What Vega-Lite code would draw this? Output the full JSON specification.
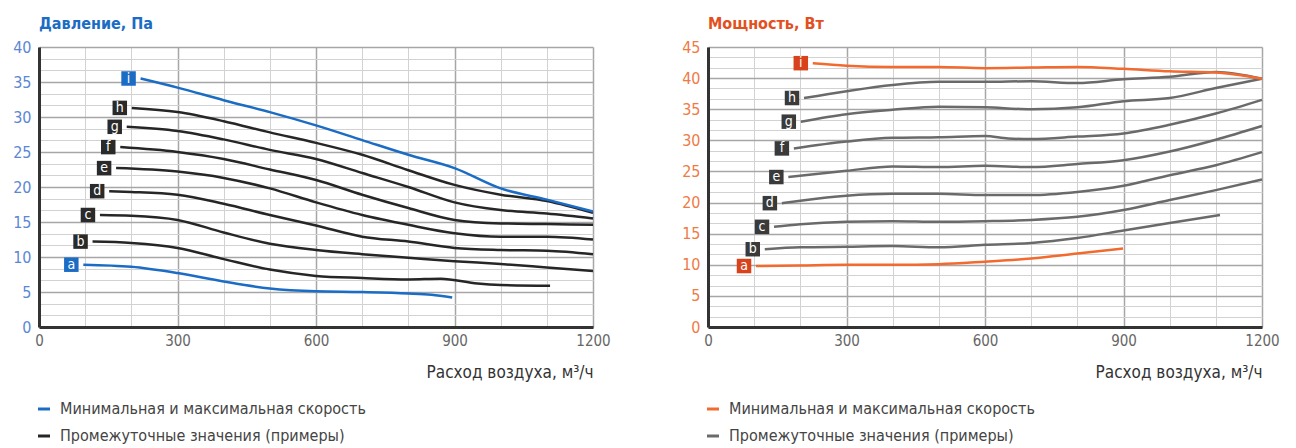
{
  "$schema": "https://vega.github.io/schema/vega-lite/v6.json",
  "padding": {"left": 12, "top": 16, "right": 5, "bottom": 0},
  "config": {
    "font": "Liberation Sans Narrow, DejaVu Sans Condensed, Liberation Sans, sans-serif",
    "view": {"stroke": null},
    "concat": {"spacing": 70}
  },
  "datasets": {
    "pres": [
      {"s":"a","t":"m","x":96,"y":8.9},{"s":"a","t":"m","x":200,"y":8.6},{"s":"a","t":"m","x":300,"y":7.7},{"s":"a","t":"m","x":400,"y":6.5},{"s":"a","t":"m","x":500,"y":5.5},{"s":"a","t":"m","x":600,"y":5.1},{"s":"a","t":"m","x":700,"y":5.0},{"s":"a","t":"m","x":800,"y":4.8},{"s":"a","t":"m","x":850,"y":4.6},{"s":"a","t":"m","x":895,"y":4.2},
      {"s":"b","t":"p","x":116,"y":12.2},{"s":"b","t":"p","x":200,"y":12.0},{"s":"b","t":"p","x":300,"y":11.3},{"s":"b","t":"p","x":400,"y":9.7},{"s":"b","t":"p","x":500,"y":8.2},{"s":"b","t":"p","x":600,"y":7.3},{"s":"b","t":"p","x":700,"y":7.0},{"s":"b","t":"p","x":800,"y":6.8},{"s":"b","t":"p","x":870,"y":6.9},{"s":"b","t":"p","x":950,"y":6.2},{"s":"b","t":"p","x":1000,"y":6.0},{"s":"b","t":"p","x":1107,"y":5.9},
      {"s":"c","t":"p","x":132,"y":16.0},{"s":"c","t":"p","x":200,"y":15.9},{"s":"c","t":"p","x":300,"y":15.3},{"s":"c","t":"p","x":400,"y":13.5},{"s":"c","t":"p","x":500,"y":11.9},{"s":"c","t":"p","x":600,"y":11.0},{"s":"c","t":"p","x":700,"y":10.4},{"s":"c","t":"p","x":800,"y":9.9},{"s":"c","t":"p","x":900,"y":9.4},{"s":"c","t":"p","x":1000,"y":9.0},{"s":"c","t":"p","x":1100,"y":8.5},{"s":"c","t":"p","x":1200,"y":8.0},
      {"s":"d","t":"p","x":152,"y":19.4},{"s":"d","t":"p","x":200,"y":19.3},{"s":"d","t":"p","x":300,"y":18.9},{"s":"d","t":"p","x":400,"y":17.6},{"s":"d","t":"p","x":500,"y":16.0},{"s":"d","t":"p","x":600,"y":14.5},{"s":"d","t":"p","x":700,"y":12.9},{"s":"d","t":"p","x":800,"y":12.2},{"s":"d","t":"p","x":900,"y":11.3},{"s":"d","t":"p","x":1000,"y":11.0},{"s":"d","t":"p","x":1100,"y":10.9},{"s":"d","t":"p","x":1200,"y":10.4},
      {"s":"e","t":"p","x":167,"y":22.7},{"s":"e","t":"p","x":300,"y":22.2},{"s":"e","t":"p","x":400,"y":21.3},{"s":"e","t":"p","x":500,"y":19.8},{"s":"e","t":"p","x":600,"y":17.8},{"s":"e","t":"p","x":700,"y":16.0},{"s":"e","t":"p","x":800,"y":14.6},{"s":"e","t":"p","x":900,"y":13.4},{"s":"e","t":"p","x":1000,"y":12.9},{"s":"e","t":"p","x":1100,"y":12.9},{"s":"e","t":"p","x":1200,"y":12.5},
      {"s":"f","t":"p","x":176,"y":25.7},{"s":"f","t":"p","x":300,"y":25.0},{"s":"f","t":"p","x":400,"y":24.0},{"s":"f","t":"p","x":500,"y":22.5},{"s":"f","t":"p","x":600,"y":21.0},{"s":"f","t":"p","x":700,"y":18.9},{"s":"f","t":"p","x":800,"y":17.0},{"s":"f","t":"p","x":900,"y":15.3},{"s":"f","t":"p","x":1000,"y":14.8},{"s":"f","t":"p","x":1100,"y":14.7},{"s":"f","t":"p","x":1200,"y":14.6},
      {"s":"g","t":"p","x":190,"y":28.6},{"s":"g","t":"p","x":300,"y":28.0},{"s":"g","t":"p","x":400,"y":26.8},{"s":"g","t":"p","x":500,"y":25.3},{"s":"g","t":"p","x":600,"y":24.0},{"s":"g","t":"p","x":700,"y":22.0},{"s":"g","t":"p","x":800,"y":20.0},{"s":"g","t":"p","x":900,"y":17.8},{"s":"g","t":"p","x":1000,"y":16.7},{"s":"g","t":"p","x":1100,"y":16.2},{"s":"g","t":"p","x":1200,"y":15.5},
      {"s":"h","t":"p","x":201,"y":31.3},{"s":"h","t":"p","x":300,"y":30.7},{"s":"h","t":"p","x":400,"y":29.4},{"s":"h","t":"p","x":500,"y":27.8},{"s":"h","t":"p","x":600,"y":26.3},{"s":"h","t":"p","x":700,"y":24.6},{"s":"h","t":"p","x":800,"y":22.4},{"s":"h","t":"p","x":900,"y":20.3},{"s":"h","t":"p","x":1000,"y":18.9},{"s":"h","t":"p","x":1100,"y":18.0},{"s":"h","t":"p","x":1200,"y":16.3},
      {"s":"i","t":"m","x":220,"y":35.5},{"s":"i","t":"m","x":300,"y":34.2},{"s":"i","t":"m","x":400,"y":32.4},{"s":"i","t":"m","x":500,"y":30.7},{"s":"i","t":"m","x":600,"y":28.8},{"s":"i","t":"m","x":700,"y":26.7},{"s":"i","t":"m","x":800,"y":24.6},{"s":"i","t":"m","x":900,"y":22.7},{"s":"i","t":"m","x":1000,"y":19.8},{"s":"i","t":"m","x":1100,"y":18.2},{"s":"i","t":"m","x":1200,"y":16.5}
    ],
    "pow": [
      {"s":"a","t":"m","x":104,"y":9.8},{"s":"a","t":"m","x":200,"y":9.9},{"s":"a","t":"m","x":300,"y":10.0},{"s":"a","t":"m","x":400,"y":10.0},{"s":"a","t":"m","x":500,"y":10.1},{"s":"a","t":"m","x":600,"y":10.5},{"s":"a","t":"m","x":700,"y":11.0},{"s":"a","t":"m","x":800,"y":11.8},{"s":"a","t":"m","x":899,"y":12.6},
      {"s":"b","t":"p","x":123,"y":12.5},{"s":"b","t":"p","x":200,"y":12.8},{"s":"b","t":"p","x":300,"y":12.9},{"s":"b","t":"p","x":400,"y":13.0},{"s":"b","t":"p","x":500,"y":12.8},{"s":"b","t":"p","x":600,"y":13.2},{"s":"b","t":"p","x":700,"y":13.5},{"s":"b","t":"p","x":800,"y":14.3},{"s":"b","t":"p","x":900,"y":15.5},{"s":"b","t":"p","x":1000,"y":16.7},{"s":"b","t":"p","x":1109,"y":18.0},
      {"s":"c","t":"p","x":143,"y":16.1},{"s":"c","t":"p","x":200,"y":16.5},{"s":"c","t":"p","x":300,"y":16.9},{"s":"c","t":"p","x":400,"y":17.0},{"s":"c","t":"p","x":500,"y":16.9},{"s":"c","t":"p","x":600,"y":17.0},{"s":"c","t":"p","x":700,"y":17.2},{"s":"c","t":"p","x":800,"y":17.7},{"s":"c","t":"p","x":900,"y":18.8},{"s":"c","t":"p","x":1000,"y":20.4},{"s":"c","t":"p","x":1100,"y":22.0},{"s":"c","t":"p","x":1200,"y":23.7},
      {"s":"d","t":"p","x":160,"y":19.9},{"s":"d","t":"p","x":200,"y":20.3},{"s":"d","t":"p","x":300,"y":21.1},{"s":"d","t":"p","x":400,"y":21.4},{"s":"d","t":"p","x":500,"y":21.4},{"s":"d","t":"p","x":600,"y":21.2},{"s":"d","t":"p","x":700,"y":21.2},{"s":"d","t":"p","x":800,"y":21.7},{"s":"d","t":"p","x":900,"y":22.7},{"s":"d","t":"p","x":1000,"y":24.4},{"s":"d","t":"p","x":1100,"y":26.0},{"s":"d","t":"p","x":1200,"y":28.1},
      {"s":"e","t":"p","x":174,"y":24.1},{"s":"e","t":"p","x":300,"y":25.1},{"s":"e","t":"p","x":400,"y":25.8},{"s":"e","t":"p","x":500,"y":25.7},{"s":"e","t":"p","x":600,"y":25.9},{"s":"e","t":"p","x":700,"y":25.7},{"s":"e","t":"p","x":800,"y":26.2},{"s":"e","t":"p","x":900,"y":26.8},{"s":"e","t":"p","x":1000,"y":28.2},{"s":"e","t":"p","x":1100,"y":30.1},{"s":"e","t":"p","x":1200,"y":32.3},
      {"s":"f","t":"p","x":186,"y":28.7},{"s":"f","t":"p","x":300,"y":29.8},{"s":"f","t":"p","x":400,"y":30.4},{"s":"f","t":"p","x":500,"y":30.5},{"s":"f","t":"p","x":600,"y":30.7},{"s":"f","t":"p","x":650,"y":30.3},{"s":"f","t":"p","x":700,"y":30.2},{"s":"f","t":"p","x":800,"y":30.6},{"s":"f","t":"p","x":900,"y":31.1},{"s":"f","t":"p","x":1000,"y":32.5},{"s":"f","t":"p","x":1100,"y":34.3},{"s":"f","t":"p","x":1200,"y":36.5},
      {"s":"g","t":"p","x":201,"y":33.0},{"s":"g","t":"p","x":300,"y":34.2},{"s":"g","t":"p","x":400,"y":34.9},{"s":"g","t":"p","x":500,"y":35.4},{"s":"g","t":"p","x":600,"y":35.3},{"s":"g","t":"p","x":700,"y":35.0},{"s":"g","t":"p","x":800,"y":35.3},{"s":"g","t":"p","x":900,"y":36.3},{"s":"g","t":"p","x":1000,"y":36.8},{"s":"g","t":"p","x":1100,"y":38.4},{"s":"g","t":"p","x":1200,"y":39.9},
      {"s":"h","t":"p","x":208,"y":36.8},{"s":"h","t":"p","x":300,"y":37.9},{"s":"h","t":"p","x":400,"y":38.9},{"s":"h","t":"p","x":500,"y":39.4},{"s":"h","t":"p","x":600,"y":39.4},{"s":"h","t":"p","x":700,"y":39.5},{"s":"h","t":"p","x":800,"y":39.2},{"s":"h","t":"p","x":900,"y":39.8},{"s":"h","t":"p","x":1000,"y":40.2},{"s":"h","t":"p","x":1100,"y":41.0},{"s":"h","t":"p","x":1200,"y":39.9},
      {"s":"i","t":"m","x":227,"y":42.4},{"s":"i","t":"m","x":300,"y":42.0},{"s":"i","t":"m","x":400,"y":41.8},{"s":"i","t":"m","x":500,"y":41.8},{"s":"i","t":"m","x":600,"y":41.6},{"s":"i","t":"m","x":700,"y":41.7},{"s":"i","t":"m","x":800,"y":41.8},{"s":"i","t":"m","x":900,"y":41.5},{"s":"i","t":"m","x":1000,"y":41.1},{"s":"i","t":"m","x":1100,"y":40.9},{"s":"i","t":"m","x":1200,"y":39.9}
    ]
  },
  "hconcat": [
    {
      "width": 554, "height": 280,
      "title": {"text": "Давление, Па", "anchor": "start", "frame": "group", "color": "#1a6cc4", "fontSize": 16, "fontWeight": "bold", "offset": 7},
      "data": {"name": "pres"},
      "encoding": {
        "x": {"field": "x", "type": "quantitative", "scale": {"domain": [0, 1200], "nice": false},
          "axis": {"values": [0,100,200,300,400,500,600,700,800,900,1000,1100,1200], "format": "d",
            "labelExpr": "datum.value % 300 === 0 ? datum.label : ''", "labelOverlap": false, "labelFlush": false,
            "title": "Расход воздуха, м³/ч", "titleAnchor": "end", "titleFontSize": 17, "titleFontWeight": "normal", "titleColor": "#333", "titlePadding": 16,
            "labelFontSize": 15, "labelColor": "#666", "labelPadding": 6, "ticks": false,
            "domainColor": "#333", "domainWidth": 3, "grid": true,
            "gridColor": {"condition": {"test": "datum.value % 300 === 0", "value": "#a6a6a6"}, "value": "#d2d2d2"},
            "gridWidth": {"condition": {"test": "datum.value % 300 === 0", "value": 1.5}, "value": 1}}},
        "y": {"field": "y", "type": "quantitative", "scale": {"domain": [0, 40], "nice": false},
          "axis": {"values": [0,1.6667,3.3333,5,6.6667,8.3333,10,11.6667,13.3333,15,16.6667,18.3333,20,21.6667,23.3333,25,26.6667,28.3333,30,31.6667,33.3333,35,36.6667,38.3333,40],
            "labelExpr": "abs(datum.value/5 - round(datum.value/5)) < 0.01 ? format(datum.value, '.0f') : ''", "labelOverlap": false, "labelFlush": false,
            "title": null, "labelFontSize": 16, "labelColor": "#5b87d4", "labelPadding": 8, "ticks": false,
            "domainColor": "#333", "domainWidth": 3, "grid": true,
            "gridColor": {"condition": {"test": "abs(datum.value/5 - round(datum.value/5)) < 0.01", "value": "#a6a6a6"}, "value": "#d2d2d2"},
            "gridWidth": {"condition": {"test": "abs(datum.value/5 - round(datum.value/5)) < 0.01", "value": 1.5}, "value": 1}}}
      },
      "layer": [
        {
          "mark": {"type": "line", "interpolate": "monotone", "strokeWidth": 2.5},
          "encoding": {
            "detail": {"field": "s"},
            "color": {"field": "t", "type": "nominal", "scale": {"domain": ["m", "p"], "range": ["#1a6cc4", "#262626"]},
              "legend": {"orient": "none", "legendX": -3, "legendY": 354, "direction": "vertical", "title": null,
                "symbolType": "stroke", "symbolStrokeWidth": 3, "symbolSize": 144, "labelFontSize": 16, "labelColor": "#444",
                "rowPadding": 11, "labelLimit": 500, "padding": 0, "labelOffset": 8,
                "labelExpr": "datum.value === 'm' ? 'Минимальная и максимальная скорость' : 'Промежуточные значения (примеры)'"}}
          }
        },
        {
          "transform": [{"window": [{"op": "row_number", "as": "rn"}], "groupby": ["s"], "sort": [{"field": "x"}]}, {"filter": "datum.rn === 1"}],
          "mark": {"type": "point", "shape": "square", "filled": true, "size": 210, "xOffset": -12, "opacity": 1, "strokeWidth": 0},
          "encoding": {
            "fill": {"field": "t", "type": "nominal", "scale": {"domain": ["m", "p"], "range": ["#1a6cc4", "#2a2a2a"]}, "legend": null}
          }
        },
        {
          "transform": [{"window": [{"op": "row_number", "as": "rn"}], "groupby": ["s"], "sort": [{"field": "x"}]}, {"filter": "datum.rn === 1"}],
          "mark": {"type": "text", "xOffset": -12, "color": "white", "fontSize": 14, "align": "center", "baseline": "middle"},
          "encoding": {"text": {"field": "s"}}
        }
      ]
    },
    {
      "width": 554, "height": 280,
      "title": {"text": "Мощность, Вт", "anchor": "start", "frame": "group", "color": "#e3501e", "fontSize": 16, "fontWeight": "bold", "offset": 7},
      "data": {"name": "pow"},
      "encoding": {
        "x": {"field": "x", "type": "quantitative", "scale": {"domain": [0, 1200], "nice": false},
          "axis": {"values": [0,100,200,300,400,500,600,700,800,900,1000,1100,1200], "format": "d",
            "labelExpr": "datum.value % 300 === 0 ? datum.label : ''", "labelOverlap": false, "labelFlush": false,
            "title": "Расход воздуха, м³/ч", "titleAnchor": "end", "titleFontSize": 17, "titleFontWeight": "normal", "titleColor": "#333", "titlePadding": 16,
            "labelFontSize": 15, "labelColor": "#666", "labelPadding": 6, "ticks": false,
            "domainColor": "#333", "domainWidth": 3, "grid": true,
            "gridColor": {"condition": {"test": "datum.value % 300 === 0", "value": "#a6a6a6"}, "value": "#d2d2d2"},
            "gridWidth": {"condition": {"test": "datum.value % 300 === 0", "value": 1.5}, "value": 1}}},
        "y": {"field": "y", "type": "quantitative", "scale": {"domain": [0, 45], "nice": false},
          "axis": {"values": [0,1.6667,3.3333,5,6.6667,8.3333,10,11.6667,13.3333,15,16.6667,18.3333,20,21.6667,23.3333,25,26.6667,28.3333,30,31.6667,33.3333,35,36.6667,38.3333,40,41.6667,43.3333,45],
            "labelExpr": "abs(datum.value/5 - round(datum.value/5)) < 0.01 ? format(datum.value, '.0f') : ''", "labelOverlap": false, "labelFlush": false,
            "title": null, "labelFontSize": 16, "labelColor": "#f07a45", "labelPadding": 8, "ticks": false,
            "domainColor": "#333", "domainWidth": 3, "grid": true,
            "gridColor": {"condition": {"test": "abs(datum.value/5 - round(datum.value/5)) < 0.01", "value": "#a6a6a6"}, "value": "#d2d2d2"},
            "gridWidth": {"condition": {"test": "abs(datum.value/5 - round(datum.value/5)) < 0.01", "value": 1.5}, "value": 1}}}
      },
      "layer": [
        {
          "mark": {"type": "line", "interpolate": "monotone", "strokeWidth": 2.5},
          "encoding": {
            "detail": {"field": "s"},
            "color": {"field": "t", "type": "nominal", "scale": {"domain": ["m", "p"], "range": ["#f26a2e", "#6a6a6a"]},
              "legend": {"orient": "none", "legendX": -3, "legendY": 354, "direction": "vertical", "title": null,
                "symbolType": "stroke", "symbolStrokeWidth": 3, "symbolSize": 144, "labelFontSize": 16, "labelColor": "#444",
                "rowPadding": 11, "labelLimit": 500, "padding": 0, "labelOffset": 8,
                "labelExpr": "datum.value === 'm' ? 'Минимальная и максимальная скорость' : 'Промежуточные значения (примеры)'"}}
          }
        },
        {
          "transform": [{"window": [{"op": "row_number", "as": "rn"}], "groupby": ["s"], "sort": [{"field": "x"}]}, {"filter": "datum.rn === 1"}],
          "mark": {"type": "point", "shape": "square", "filled": true, "size": 210, "xOffset": -12, "opacity": 1, "strokeWidth": 0},
          "encoding": {
            "fill": {"field": "t", "type": "nominal", "scale": {"domain": ["m", "p"], "range": ["#d8431c", "#3a3a3a"]}, "legend": null}
          }
        },
        {
          "transform": [{"window": [{"op": "row_number", "as": "rn"}], "groupby": ["s"], "sort": [{"field": "x"}]}, {"filter": "datum.rn === 1"}],
          "mark": {"type": "text", "xOffset": -12, "color": "white", "fontSize": 14, "align": "center", "baseline": "middle"},
          "encoding": {"text": {"field": "s"}}
        }
      ]
    }
  ],
  "resolve": {"scale": {"color": "independent", "fill": "independent", "x": "independent", "y": "independent"}, "legend": {"color": "independent"}}
}
